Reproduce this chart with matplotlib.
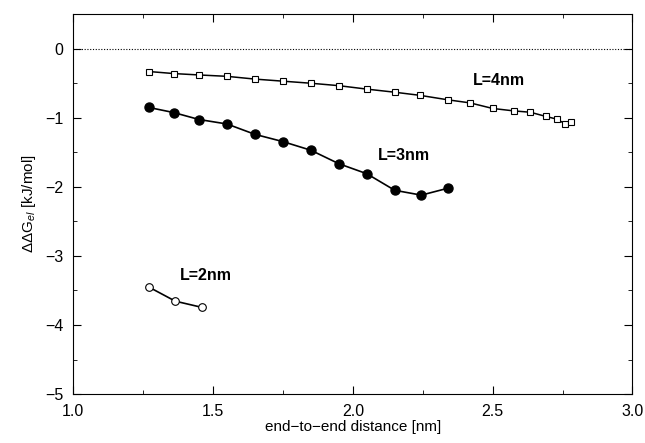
import matplotlib
matplotlib.use("Agg")
import matplotlib.pyplot as plt
from matplotlib.ticker import MultipleLocator

plt.rcParams['font.family'] = ['Liberation Sans', 'DejaVu Sans']
plt.rcParams['mathtext.fontset'] = 'custom'
plt.rcParams['mathtext.rm'] = 'Liberation Sans'
plt.rcParams['mathtext.it'] = 'Liberation Sans:italic'

# L=4nm, open squares
x_l4 = [1.27, 1.36, 1.45, 1.55, 1.65, 1.75, 1.85, 1.95, 2.05, 2.15,
        2.24, 2.34, 2.42, 2.50, 2.575, 2.635, 2.69, 2.73, 2.76, 2.78]
y_l4 = [-0.33, -0.36, -0.38, -0.40, -0.44, -0.47, -0.50, -0.535, -0.585, -0.63,
        -0.675, -0.74, -0.785, -0.865, -0.90, -0.92, -0.98, -1.02, -1.09, -1.065]

# L=3nm, filled circles
x_l3 = [1.27, 1.36, 1.45, 1.55, 1.65, 1.75, 1.85, 1.95, 2.05, 2.15, 2.245, 2.34]
y_l3 = [-0.85, -0.925, -1.025, -1.09, -1.24, -1.345, -1.47, -1.665, -1.81, -2.05, -2.12, -2.02]

# L=2nm, open circles
x_l2 = [1.27, 1.365, 1.46]
y_l2 = [-3.45, -3.655, -3.745]

labels = ["L=4nm", "L=3nm", "L=2nm"]
label_pos = [(2.43, -0.465), (2.09, -1.55), (1.38, -3.28)]

fig = plt.figure(figsize=(6.45, 4.43), dpi=100)
ax = fig.add_axes([0.1135, 0.1105, 0.867, 0.8575])

ax.axhline(0, color='black', lw=0.8, ls=(0, (1, 1.5)))

ax.plot(x_l4, y_l4, '-', color='black', lw=1.1, marker='s', ms=5,
        mfc='white', mec='black', mew=0.8)
ax.plot(x_l3, y_l3, '-', color='black', lw=1.2, marker='o', ms=6.5,
        mfc='black', mec='black')
ax.plot(x_l2, y_l2, '-', color='black', lw=1.2, marker='o', ms=5.5,
        mfc='white', mec='black', mew=0.8)

for lab, (lx, ly) in zip(labels, label_pos):
    ax.text(lx, ly, lab, fontsize=11.5, fontweight='bold', ha='left', va='center')

ax.set_xlim(1.0, 3.0)
ax.set_ylim(-5, 0.5)
ax.xaxis.set_major_locator(MultipleLocator(0.5))
ax.xaxis.set_minor_locator(MultipleLocator(0.25))
ax.yaxis.set_major_locator(MultipleLocator(1))
ax.yaxis.set_minor_locator(MultipleLocator(0.5))
ax.xaxis.set_major_formatter(matplotlib.ticker.FormatStrFormatter('%.1f'))
ax.tick_params(which='both', direction='in', top=True, right=True, labelsize=11.5)
ax.tick_params(which='major', length=6, pad=7)
ax.tick_params(which='minor', length=3)

ax.set_xlabel("end\u2212to\u2212end distance [nm]", fontsize=11, labelpad=1)
ax.set_ylabel(r"$\Delta\Delta$G$_{el}$ [kJ/mol]", fontsize=11, labelpad=5)

fig.savefig("out.png", dpi=100)
